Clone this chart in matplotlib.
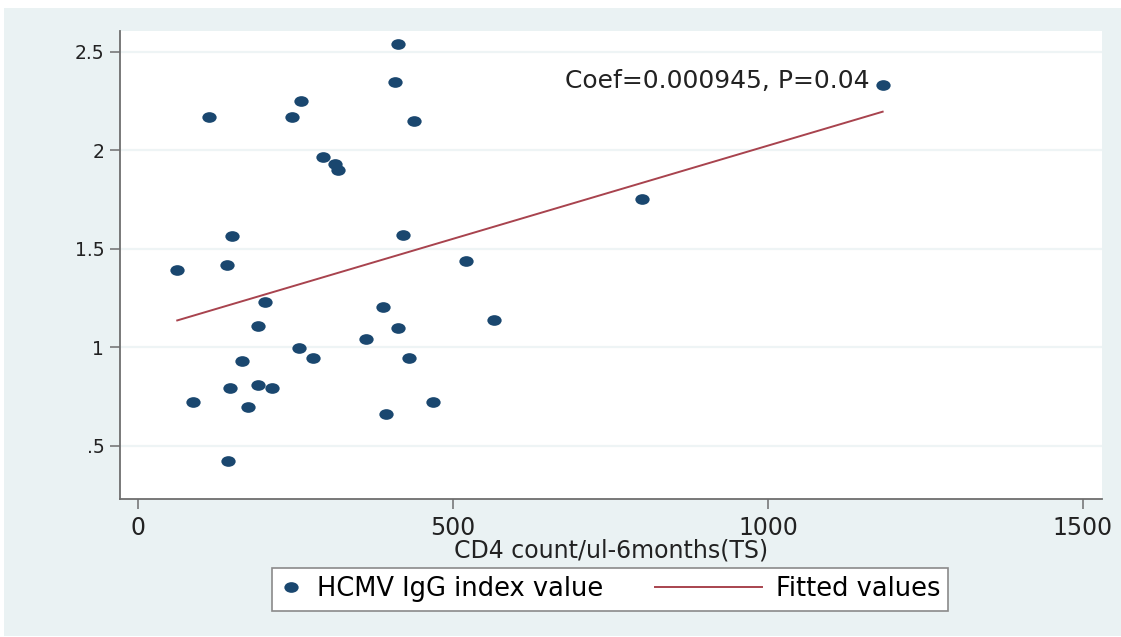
import matplotlib
matplotlib.use("Agg")

import matplotlib.pyplot as plt
from matplotlib.lines import Line2D
from matplotlib.legend_handler import HandlerLine2D
from matplotlib.patches import Rectangle
from matplotlib.path import Path
from matplotlib.transforms import Affine2D

# CD4 count (x) and HCMV IgG index value (y)
cd4 = [62, 112, 141, 149, 202, 244, 259, 293, 312, 318, 408, 413, 438, 420,
       521, 388, 565, 191, 413, 361, 256, 278, 430, 165, 145, 190, 212, 87,
       175, 468, 393, 142, 1182, 800]
igg = [1.39, 2.17, 1.42, 1.565, 1.23, 2.167, 2.249, 1.964, 1.93, 1.90, 2.344,
       2.537, 2.15, 1.57, 1.437, 1.206, 1.139, 1.11, 1.10, 1.041, 0.999, 0.948,
       0.948, 0.931, 0.794, 0.808, 0.794, 0.723, 0.696, 0.723, 0.662, 0.424,
       2.332, 1.753]

coef = 0.000945
intercept = 1.078
note = "Coef=0.000945, P=0.04"

x_ticks = [0, 500, 1000, 1500]
y_ticks = [0.5, 1, 1.5, 2, 2.5]
y_tick_labels = [".5", "1", "1.5", "2", "2.5"]

NAVY = "#1a476f"
MAROON = "#a8434e"
OUTER = "#eaf2f3"
AXIS_GRAY = "#6e6e6e"

plt.rcParams["font.family"] = ["DejaVu Sans"]


class NarrowMarkerHandler(HandlerLine2D):
	# the marker key in the legend is narrower than the line key
	def legend_artist(self, legend, orig_handle, fontsize, handlebox):
		handlebox.width = 0.9 * fontsize
		return super().legend_artist(legend, orig_handle, fontsize, handlebox)


def ellipse_marker():
	circle = Path.unit_circle()
	return circle.transformed(Affine2D().scale(1.34, 1.0))


def main():
	fig = plt.figure(figsize=(11.21, 6.37), dpi=100)
	fig.patch.set_facecolor("white")
	fig.patches.append(Rectangle(
		(4 / 1121, 1 / 637), 1 - 4 / 1121, (636 - 8) / 637,
		transform=fig.transFigure, facecolor=OUTER, edgecolor="none", zorder=-10,
	))

	ax = fig.add_axes([0.1067, 0.2166, 0.8762, 0.7347])
	ax.set_facecolor("white")

	ax.set_xlim(-29.5, 1530)
	ax.set_ylim(0.231, 2.604)

	for value in y_ticks:
		ax.axhline(value, color="#eef4f5", linewidth=1.6, zorder=0)

	marker = ellipse_marker()
	ax.plot(cd4, igg, linestyle="none", marker=marker, markersize=10.3,
		color=NAVY, markeredgewidth=0, zorder=3)

	fit_x = [min(cd4), max(cd4)]
	fit_y = [intercept + coef * value for value in fit_x]
	ax.plot(fit_x, fit_y, color=MAROON, linewidth=1.4, zorder=2)

	ax.text(919, 2.35, note, ha="center", va="center", fontsize=18, color="#222222")

	for side in ("top", "right"):
		ax.spines[side].set_visible(False)
	for side in ("left", "bottom"):
		ax.spines[side].set_color(AXIS_GRAY)
		ax.spines[side].set_linewidth(1.3)

	ax.set_xticks(x_ticks)
	ax.set_yticks(y_ticks)
	ax.set_yticklabels(y_tick_labels)
	ax.tick_params(axis="x", length=7, width=1.1, color=AXIS_GRAY,
		labelsize=17, labelcolor="#222222", pad=5)
	ax.tick_params(axis="y", length=7.5, width=1.1, color=AXIS_GRAY,
		labelsize=13.5, labelcolor="#222222", pad=3.5)
	ax.set_xlabel("CD4 count/ul-6months(TS)", fontsize=17, color="#222222", labelpad=-1)

	scatter_key = Line2D([], [], linestyle="none", marker=marker, markersize=10.3,
		color=NAVY, markeredgewidth=0)
	line_key = Line2D([], [], color=MAROON, linewidth=1.4)
	legend = ax.legend(
		[scatter_key, line_key], ["HCMV IgG index value", "Fitted values"],
		handler_map={scatter_key: NarrowMarkerHandler()},
		loc="center", bbox_to_anchor=(0.5441, 0.0746), bbox_transform=fig.transFigure,
		ncol=2, fontsize=18.5, frameon=True, fancybox=False, framealpha=1,
		edgecolor="#8a8a8a", borderpad=0.32, handlelength=4.16, handletextpad=0.55,
		columnspacing=2.0, borderaxespad=0,
	)
	legend.get_frame().set_linewidth(1.2)

	fig.savefig("out.png", dpi=100)
	plt.close(fig)


if __name__ == "__main__":
	main()
